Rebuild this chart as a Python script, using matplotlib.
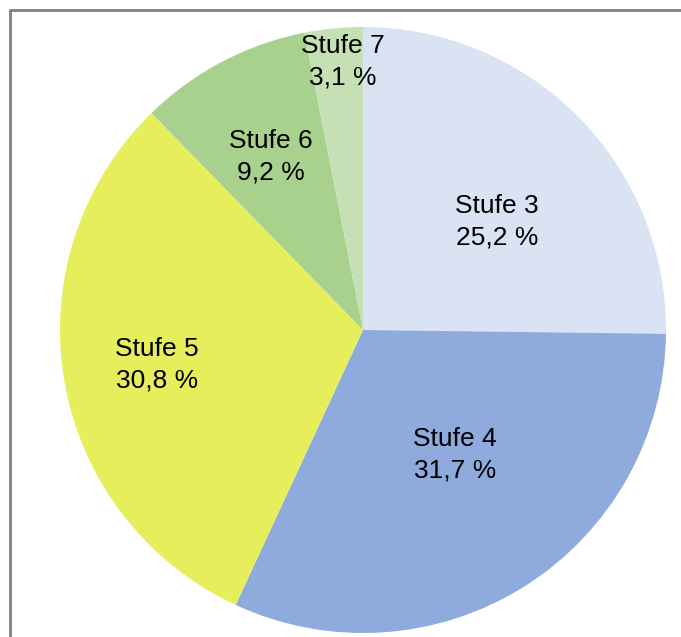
import matplotlib
matplotlib.use("Agg")
import matplotlib.pyplot as plt
from matplotlib.lines import Line2D

labels = ["Stufe 3", "Stufe 4", "Stufe 5", "Stufe 6", "Stufe 7"]
values = [25.2, 31.7, 30.8, 9.2, 3.1]
colors = ["#DAE3F3", "#8FAADC", "#E6EE5C", "#A9D18E", "#C5E0B4"]
# label positions in pie (unit-radius) coordinates
label_pos = [(0.442, 0.356), (0.304, -0.413), (-0.680, -0.116), (-0.304, 0.571), (-0.066, 0.884)]

plt.rcParams['font.family'] = ['Liberation Sans', 'DejaVu Sans']

fig = plt.figure(figsize=(6.81, 6.37), dpi=100)
ax = fig.add_axes([60/681, 4/637, 606/681, 606/637])
ax.pie(values, colors=colors, startangle=90, counterclock=False, radius=1,
       wedgeprops=dict(linewidth=0))
ax.set_xlim(-1, 1)
ax.set_ylim(-1, 1)
ax.set_aspect('equal')
ax.axis('off')

for lab, v, (x, y) in zip(labels, values, label_pos):
    txt = f"{lab}\n{v:.1f} %".replace('.', ',')
    ax.text(x, y, txt, ha='center', va='center', fontsize=19, linespacing=1.4, color='black')

# gray frame
fx = 10/681
fy = 1 - 10/637
fig.add_artist(Line2D([fx, fx, 1.01], [-0.01, fy, fy], transform=fig.transFigure,
                      color='#808080', linewidth=2))

fig.savefig("out.png", dpi=100)
